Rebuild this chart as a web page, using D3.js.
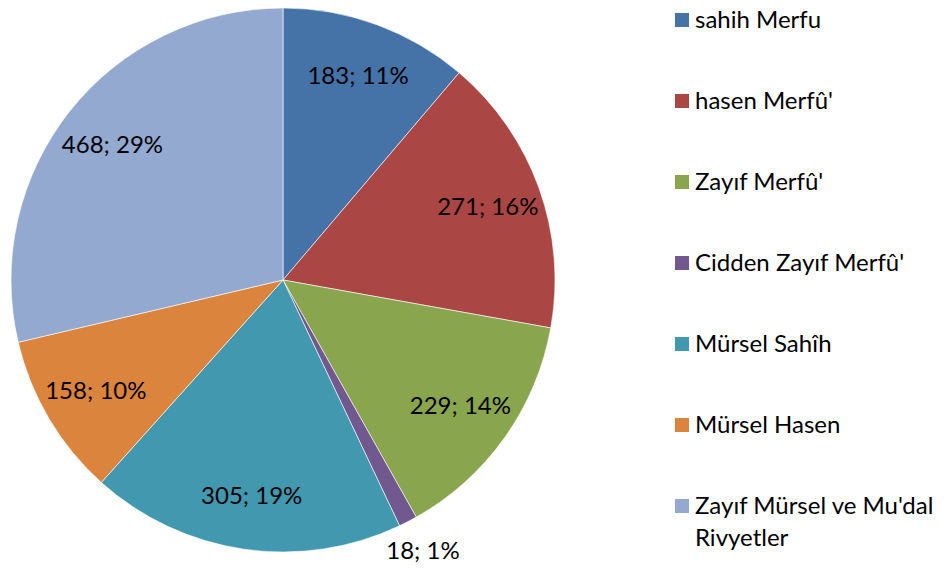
<!DOCTYPE html>
<html>
<head>
<meta charset="utf-8">
<script src="https://cdn.jsdelivr.net/npm/d3@7"></script>
<style>
  body { margin: 0; background: #fff; }
  text { font-family: Lato, "Open Sans", sans-serif; fill: #000; }
</style>
</head>
<body>
<div id="chart"></div>
<script>
// data
var categories = ["sahih Merfu", "hasen Merfû'", "Zayıf Merfû'", "Cidden Zayıf Merfû'",
                  "Mürsel Sahîh", "Mürsel Hasen", "Zayıf Mürsel ve Mu'dal Rivyetler"]
var values = [183, 271, 229, 18, 305, 158, 468]
var percents = ["11%", "16%", "14%", "1%", "19%", "10%", "29%"]
var colors = ["#4572A7", "#AA4643", "#89A54E", "#71588F", "#4198AF", "#DB843D", "#93A9CF"]

var width = 944, height = 568
var cx = 283, cy = 280, radius = 272

var svg = d3.select("#chart")
    .append("svg")
    .attr("width", width)
    .attr("height", height)

var pie = d3.pie().sort(null).value(function(d) { return d })
var arcs = pie(values)

var arc = d3.arc().innerRadius(0).outerRadius(radius)
var labelArc = d3.arc().innerRadius(radius * 0.8).outerRadius(radius * 0.8)
var outerArc = d3.arc().innerRadius(radius * 1.12).outerRadius(radius * 1.12)

var g = svg.append("g")
    .attr("transform", "translate(" + cx + "," + cy + ")")

g.selectAll("path.slice")
  .data(arcs)
  .enter().append("path")
    .attr("class", "slice")
    .attr("d", arc)
    .attr("fill", function(d, i) { return colors[i] })
    .attr("stroke", "#ffffff")
    .attr("stroke-width", 0.6)

// small slices get their label outside
g.selectAll("text.label")
  .data(arcs)
  .enter().append("text")
    .attr("class", "label")
    .attr("transform", function(d) {
      var small = (d.endAngle - d.startAngle) < 0.1
      return "translate(" + (small ? outerArc : labelArc).centroid(d) + ")"
    })
    .attr("text-anchor", "middle")
    .attr("dy", "0.35em")
    .style("font-size", "24px")
    .text(function(d, i) { return values[i] + "; " + percents[i] })

// legend
var legend = svg.append("g")
    .attr("transform", "translate(675, 20)")

var rowGap = 81

var item = legend.selectAll("g.item")
  .data(categories)
  .enter().append("g")
    .attr("class", "item")
    .attr("transform", function(d, i) { return "translate(0," + (i * rowGap) + ")" })

item.append("rect")
    .attr("x", 0)
    .attr("y", -7)
    .attr("width", 14)
    .attr("height", 14)
    .attr("fill", function(d, i) { return colors[i] })

item.append("text")
    .attr("x", 20)
    .attr("dy", "0.35em")
    .style("font-size", "24px")
    .each(function(d) {
      var t = d3.select(this)
      // last entry wraps onto two lines like the original
      var lines = d.length > 25 ? ["Zayıf Mürsel ve Mu'dal", "Rivyetler"] : [d]
      lines.forEach(function(line, j) {
        t.append("tspan").attr("x", 20).attr("dy", j === 0 ? "0.35em" : "32px").text(line)
      })
    })
</script>
</body>
</html>
